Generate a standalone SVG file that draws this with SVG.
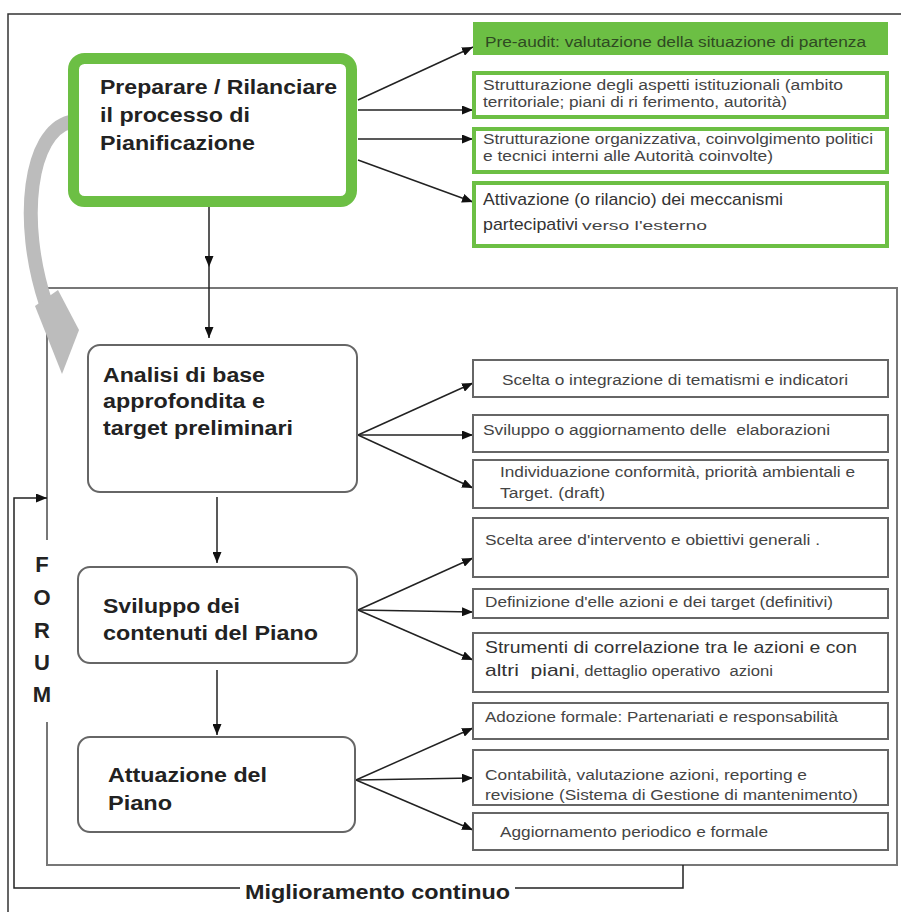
<svg xmlns="http://www.w3.org/2000/svg" width="901" height="912" viewBox="0 0 901 912">
<style>
.title{font-family:"Liberation Sans",Arial,sans-serif;font-weight:bold;font-size:20px;fill:#222}
.sm{font-family:"Liberation Sans",Arial,sans-serif;font-size:14px;fill:#444}
.lg{font-family:"Liberation Sans",Arial,sans-serif;font-size:17px;fill:#333}
.gbox{fill:#fff;stroke:#6cbf44;stroke-width:4}
.box{fill:#fff;stroke:#666;stroke-width:2}
.node{fill:#fff;stroke:#666;stroke-width:2}
.ln{fill:none;stroke:#222;stroke-width:1.5}
.fr{fill:none;stroke:#777;stroke-width:2}
</style>
<defs>
<marker id="ah" markerUnits="userSpaceOnUse" markerWidth="11" markerHeight="9" refX="11" refY="4.5" orient="auto">
<path d="M0,0 L11,4.5 L0,9 z" fill="#111"/>
</marker>
</defs>
<rect x="0" y="0" width="901" height="912" fill="#fff"/>
<!-- outer frame -->
<path d="M8 912 V14 H901" fill="none" stroke="#333" stroke-width="1.5"/>
<!-- inner frame -->
<path class="fr" d="M47 540 V288 H897 V865 H47 V722"/>
<!-- gray curved arrow -->
<g id="cycle-arrow">
<path d="M70 122 C 30 132, 18 220, 46 304" fill="none" stroke="#bcbcbc" stroke-width="14"/>
<polygon points="35,306 58,290 79,330 62,374" fill="#bcbcbc"/>
</g>
<!-- connectors -->
<g id="connectors" class="ln">
<line x1="209" y1="207" x2="209" y2="267" marker-end="url(#ah)"/>
<line x1="209" y1="267" x2="209" y2="338" marker-end="url(#ah)"/>
<line x1="217" y1="497" x2="217" y2="563" marker-end="url(#ah)"/>
<line x1="217" y1="670" x2="217" y2="735" marker-end="url(#ah)"/>
<line x1="358" y1="100" x2="473" y2="47" marker-end="url(#ah)"/>
<line x1="358" y1="110" x2="473" y2="110" marker-end="url(#ah)"/>
<line x1="358" y1="139" x2="473" y2="139" marker-end="url(#ah)"/>
<line x1="358" y1="160" x2="473" y2="202" marker-end="url(#ah)"/>
<line x1="358" y1="435" x2="473" y2="383" marker-end="url(#ah)"/>
<line x1="358" y1="435" x2="473" y2="435" marker-end="url(#ah)"/>
<line x1="358" y1="435" x2="473" y2="488" marker-end="url(#ah)"/>
<line x1="358" y1="610" x2="473" y2="558" marker-end="url(#ah)"/>
<line x1="358" y1="610" x2="473" y2="612" marker-end="url(#ah)"/>
<line x1="358" y1="610" x2="473" y2="660" marker-end="url(#ah)"/>
<line x1="356" y1="780" x2="473" y2="728" marker-end="url(#ah)"/>
<line x1="356" y1="780" x2="473" y2="778" marker-end="url(#ah)"/>
<line x1="356" y1="780" x2="473" y2="830" marker-end="url(#ah)"/>
<path d="M683 865 V888 H515"/>
<path d="M240 888 H14 V498 H47" marker-end="url(#ah)"/>
</g>
<!-- main nodes -->
<g id="preparare">
<rect x="73.5" y="58.5" width="278" height="143" rx="11" fill="#fff" stroke="#6cbf44" stroke-width="11"/>
<text class="title" x="100" y="94" textLength="237" lengthAdjust="spacingAndGlyphs">Preparare / Rilanciare</text>
<text class="title" x="100" y="122" textLength="150" lengthAdjust="spacingAndGlyphs">il processo di</text>
<text class="title" x="100" y="150" textLength="155" lengthAdjust="spacingAndGlyphs">Pianificazione</text>
</g>
<g id="analisi">
<rect class="node" x="88" y="345" width="269" height="147" rx="12"/>
<text class="title" x="103" y="382" textLength="162" lengthAdjust="spacingAndGlyphs">Analisi di base</text>
<text class="title" x="103" y="408" textLength="162" lengthAdjust="spacingAndGlyphs">approfondita e</text>
<text class="title" x="103" y="435" textLength="190" lengthAdjust="spacingAndGlyphs">target preliminari</text>
</g>
<g id="sviluppo">
<rect class="node" x="78" y="567" width="279" height="96" rx="12"/>
<text class="title" x="103" y="613" textLength="137" lengthAdjust="spacingAndGlyphs">Sviluppo dei</text>
<text class="title" x="103" y="640" textLength="215" lengthAdjust="spacingAndGlyphs">contenuti del Piano</text>
</g>
<g id="attuazione">
<rect class="node" x="78" y="737" width="277" height="95" rx="12"/>
<text class="title" x="108" y="782" textLength="159" lengthAdjust="spacingAndGlyphs">Attuazione del</text>
<text class="title" x="108" y="810" textLength="64" lengthAdjust="spacingAndGlyphs">Piano</text>
</g>
<!-- green side boxes -->
<g id="preaudit">
<rect x="473" y="22" width="415" height="33" fill="#6cbf44"/>
<text class="sm" x="485" y="47" textLength="381" lengthAdjust="spacingAndGlyphs" style="fill:#2f4a22">Pre-audit: valutazione della situazione di partenza</text>
</g>
<g id="istituzionali">
<rect class="gbox" x="474" y="73" width="413" height="44"/>
<text class="sm" x="483" y="90" textLength="360" lengthAdjust="spacingAndGlyphs">Strutturazione degli aspetti istituzionali (ambito</text>
<text class="sm" x="483" y="107" textLength="304" lengthAdjust="spacingAndGlyphs">territoriale; piani di ri ferimento, autorità)</text>
</g>
<g id="organizzativa">
<rect class="gbox" x="474" y="129" width="413" height="43"/>
<text class="sm" x="483" y="144" textLength="390" lengthAdjust="spacingAndGlyphs">Strutturazione organizzativa, coinvolgimento politici</text>
<text class="sm" x="483" y="161" textLength="290" lengthAdjust="spacingAndGlyphs">e tecnici interni alle Autorità coinvolte)</text>
</g>
<g id="attivazione">
<rect class="gbox" x="474" y="183" width="413" height="63"/>
<text class="lg" x="483" y="205" textLength="300" lengthAdjust="spacingAndGlyphs">Attivazione (o rilancio) dei meccanismi</text>
<text x="483" y="230"><tspan class="lg" textLength="95" lengthAdjust="spacingAndGlyphs">partecipativi</tspan><tspan class="sm" dx="4" style="font-size:13px" textLength="125" lengthAdjust="spacingAndGlyphs">verso l'esterno</tspan></text>
</g>
<!-- analisi side boxes -->
<g id="tematismi">
<rect class="box" x="473" y="360" width="415" height="37"/>
<text class="sm" x="502" y="385" textLength="346" lengthAdjust="spacingAndGlyphs">Scelta o integrazione di tematismi e indicatori</text>
</g>
<g id="elaborazioni">
<rect class="box" x="473" y="415" width="415" height="37"/>
<text class="sm" x="483" y="435" textLength="347" lengthAdjust="spacingAndGlyphs" xml:space="preserve">Sviluppo o aggiornamento delle  elaborazioni</text>
</g>
<g id="conformita">
<rect class="box" x="473" y="460" width="415" height="48"/>
<text class="sm" x="500" y="477" textLength="355" lengthAdjust="spacingAndGlyphs">Individuazione conformità, priorità ambientali e</text>
<text class="sm" x="500" y="498" textLength="105" lengthAdjust="spacingAndGlyphs">Target. (draft)</text>
</g>
<!-- sviluppo side boxes -->
<g id="aree">
<rect class="box" x="473" y="518" width="415" height="59"/>
<text class="sm" x="485" y="545" textLength="335" lengthAdjust="spacingAndGlyphs">Scelta aree d'intervento e obiettivi generali .</text>
</g>
<g id="definizione">
<rect class="box" x="473" y="589" width="415" height="29"/>
<text class="sm" x="485" y="607" textLength="348" lengthAdjust="spacingAndGlyphs">Definizione d'elle azioni e dei target (definitivi)</text>
</g>
<g id="strumenti">
<rect class="box" x="473" y="633" width="415" height="59"/>
<text class="lg" x="485" y="653" textLength="372" lengthAdjust="spacingAndGlyphs">Strumenti di correlazione tra le azioni e con</text>
<text x="485" y="676" xml:space="preserve"><tspan class="lg" textLength="90" lengthAdjust="spacingAndGlyphs">altri  piani</tspan><tspan class="sm" textLength="198" lengthAdjust="spacingAndGlyphs">, dettaglio operativo  azioni</tspan></text>
</g>
<!-- attuazione side boxes -->
<g id="adozione">
<rect class="box" x="473" y="703" width="415" height="36"/>
<text class="sm" x="485" y="722" textLength="353" lengthAdjust="spacingAndGlyphs">Adozione formale: Partenariati e responsabilità</text>
</g>
<g id="contabilita">
<rect class="box" x="473" y="750" width="415" height="55"/>
<text class="sm" x="485" y="780" textLength="322" lengthAdjust="spacingAndGlyphs">Contabilità, valutazione azioni, reporting e</text>
<text class="sm" x="485" y="800" textLength="373" lengthAdjust="spacingAndGlyphs">revisione (Sistema di Gestione di mantenimento)</text>
</g>
<g id="aggiornamento">
<rect class="box" x="473" y="813" width="415" height="37"/>
<text class="sm" x="500" y="837" textLength="268" lengthAdjust="spacingAndGlyphs">Aggiornamento periodico e formale</text>
</g>
<!-- labels -->
<g id="forum" class="title" style="font-size:22px" text-anchor="middle">
<text x="42" y="572">F</text>
<text x="42" y="605">O</text>
<text x="42" y="638">R</text>
<text x="42" y="670">U</text>
<text x="42" y="702">M</text>
</g>
<g id="miglioramento">
<text class="title" x="245" y="899" textLength="265" lengthAdjust="spacingAndGlyphs">Miglioramento continuo</text>
</g>
</svg>
